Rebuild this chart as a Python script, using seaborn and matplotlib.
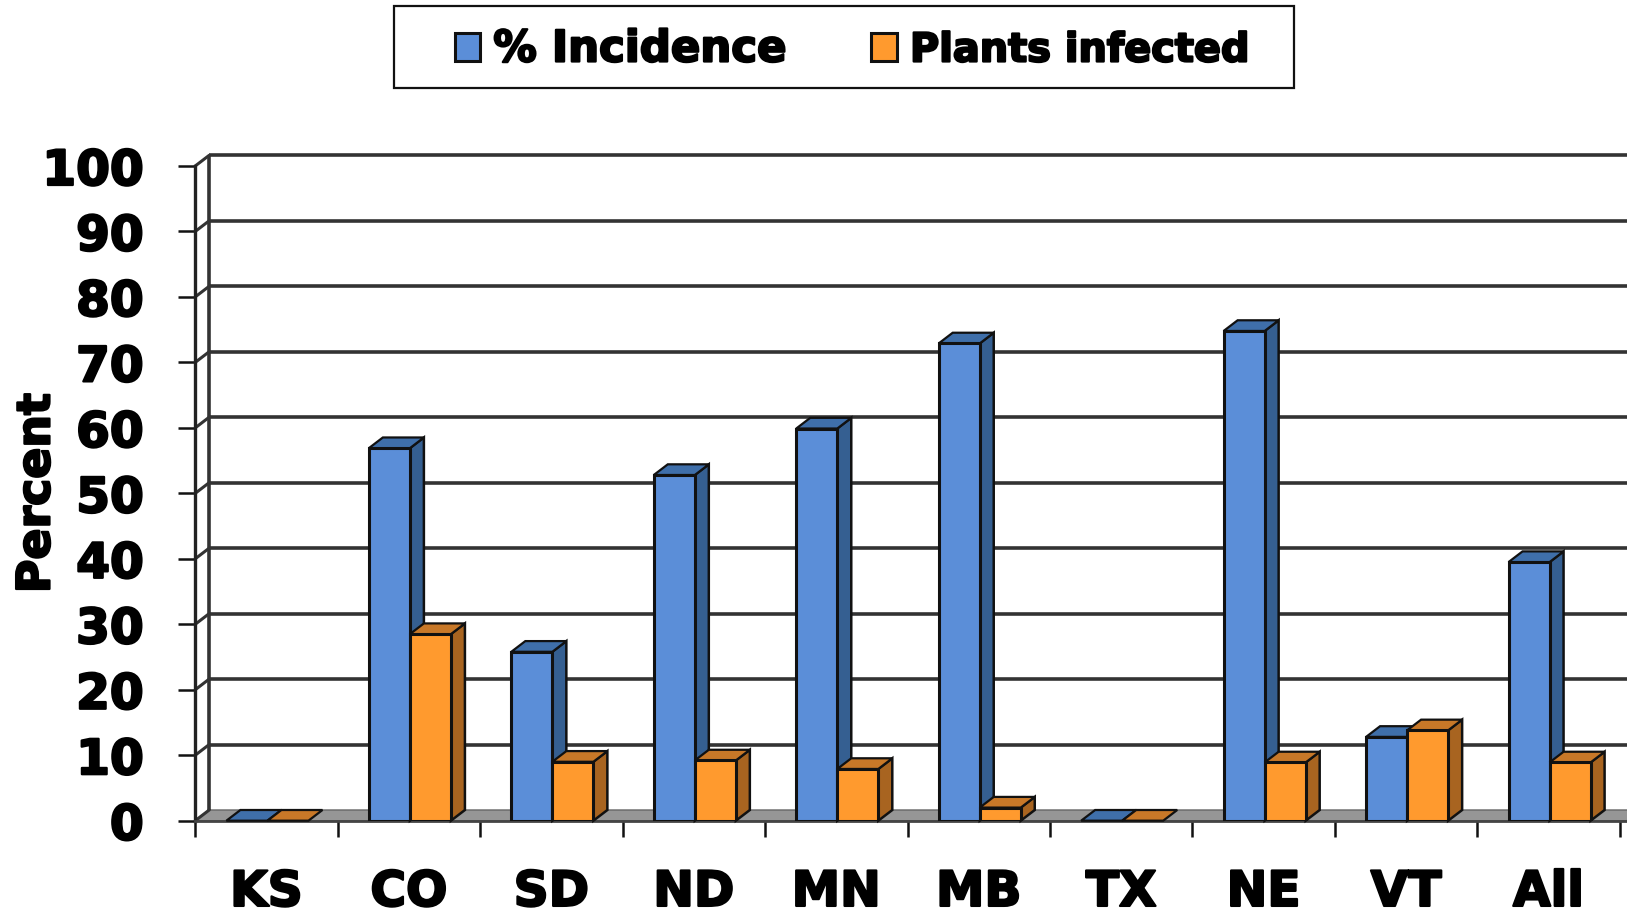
import pandas as pd
import numpy as np
import matplotlib
matplotlib.use("Agg")
import matplotlib.pyplot as plt
import matplotlib.patheffects as pe
import seaborn as sns
from matplotlib.patches import Polygon, Rectangle

estados = ["KS", "CO", "SD", "ND", "MN", "MB", "TX", "NE", "VT", "All"]
incidencia = [0, 56.9, 25.8, 52.8, 59.9, 72.9, 0, 74.8, 12.8, 39.5]
infectadas = [0, 28.5, 9.0, 9.2, 7.9, 2.0, 0, 8.9, 13.8, 8.9]

W, H = 1627, 915
# caras de cada barra: frente, lado, tapa
AZUL = ("#5B8ED8", "#355F91", "#3F6FAA")
NARANJA = ("#FF9A2E", "#A86420", "#C87828")
LINEA = "#111111"
GRUESO = [pe.withStroke(linewidth=1.6, foreground="black")]

sns.set_theme(style="ticks")
plt.rcParams["font.family"] = ["DejaVu Sans"]
plt.rcParams["font.weight"] = "bold"

df = pd.DataFrame({"estado": estados, "% Incidence": incidencia, "Plants infected": infectadas})
df = df.melt(id_vars="estado", var_name="serie", value_name="pct")

fig = plt.figure(figsize=(W / 100, H / 100), dpi=100)
ax = fig.add_axes([195.2 / W, 1 - 820.7 / H, (W - 195.2) / W, 654.7 / H])

sns.barplot(
    data=df, x="estado", y="pct", hue="serie", ax=ax,
    palette=[AZUL[0], NARANJA[0]], saturation=1,
    width=0.576, gap=0, edgecolor=LINEA, linewidth=2.2,
)
xl, xr = -0.5, (W - 195.2) / 142.46 - 0.5
ax.set_xlim(xl, xr)
ax.set_ylim(0, 100)

# desplazamiento de la profundidad 3D, en unidades de datos
dx = 14 / 142.46
dy = 10.7 / 6.547
ajuste = 1.0 / 142.46

yticks = np.arange(0, 101, 10)

# suelo y pared del fondo
ax.add_patch(Polygon([(xl, 0), (xr, 0), (xr + dx, dy), (xl + dx, dy)], closed=True,
                     facecolor="#969696", edgecolor="#666666", lw=1, zorder=1, clip_on=False))
ax.hlines(yticks[1:] + dy, xl + dx, xr, color="#333333", lw=2.6, zorder=1, clip_on=False)
ax.vlines(xl + dx, dy, 100 + dy, color="#333333", lw=2.6, zorder=1, clip_on=False)
for v in yticks:
    ax.plot([xl, xl + dx], [v, v + dy], color="#333333", lw=2.2, zorder=1, clip_on=False)

# caras laterales y tapas a partir de las barras de seaborn
for i, (cont, colores) in enumerate(zip(ax.containers, [AZUL, NARANJA])):
    base = 3 + 2 * i
    for bar in cont:
        bar.set_x(bar.get_x() + ajuste)
        x, w, h = bar.get_x(), bar.get_width(), bar.get_height()
        bar.set_zorder(base + 1)
        if h > 0:
            lado = [(x + w, 0), (x + w + dx, dy), (x + w + dx, h + dy), (x + w, h)]
            ax.add_patch(Polygon(lado, closed=True, facecolor=colores[1], edgecolor=LINEA,
                                 lw=1.8, zorder=base, clip_on=False))
        tapa = [(x, h), (x + w, h), (x + w + dx, h + dy), (x + dx, h + dy)]
        ax.add_patch(Polygon(tapa, closed=True, facecolor=colores[2], edgecolor=LINEA,
                             lw=1.6, zorder=base, clip_on=False))

# ejes
for lado in ["top", "right"]:
    ax.spines[lado].set_visible(False)
ax.spines["left"].set_linewidth(2.4)
ax.spines["left"].set_color("#222222")
ax.spines["bottom"].set_linewidth(2)
ax.spines["bottom"].set_color("#444444")
ax.patch.set_alpha(0)

ax.set_yticks(yticks)
ax.tick_params(axis="y", length=12, width=1.8, color="#111111", pad=25,
               labelsize=35, labelcolor="black")
ax.set_xticks(range(len(estados)))
ax.set_xticklabels(estados, fontsize=35, fontweight="bold", color="black")
ax.tick_params(axis="x", which="major", length=0, pad=34)
ax.set_xticks(np.arange(len(estados) + 1) - 0.5, minor=True)
ax.tick_params(axis="x", which="minor", length=11.5, width=1.8, color="#111111")
for t in ax.get_yticklabels() + ax.get_xticklabels():
    t.set_fontweight("bold")
    t.set_path_effects(GRUESO)

ax.set_xlabel("")
ax.set_ylabel("")
fig.text(37 / W, 1 - 493 / H, "Percent", rotation=90, ha="center", va="center",
         fontsize=33, fontweight="bold", color="black", path_effects=GRUESO)

# leyenda: marco aparte para fijar su tamano
fig.add_artist(Rectangle((394 / W, 1 - 88 / H), 900 / W, 82 / H, transform=fig.transFigure,
                         facecolor="white", edgecolor="#111111", lw=1.6, zorder=-1))
handles, labels = ax.get_legend_handles_labels()
leg = ax.legend(
    handles, labels, ncol=2, loc="center",
    bbox_to_anchor=(852 / W, 1 - 49.5 / H), bbox_transform=fig.transFigure,
    frameon=False, prop={"size": 30, "weight": "bold"},
    handlelength=0.62, handleheight=0.67,
    handletextpad=0.31, columnspacing=2.04, borderpad=0, borderaxespad=0,
)
leg.set_zorder(20)
for t, tam in zip(leg.get_texts(), [31.3, 28.7]):
    t.set_color("black")
    t.set_fontsize(tam)
    t.set_path_effects(GRUESO)

fig.savefig("out.png", dpi=100, facecolor="white")
plt.close(fig)
